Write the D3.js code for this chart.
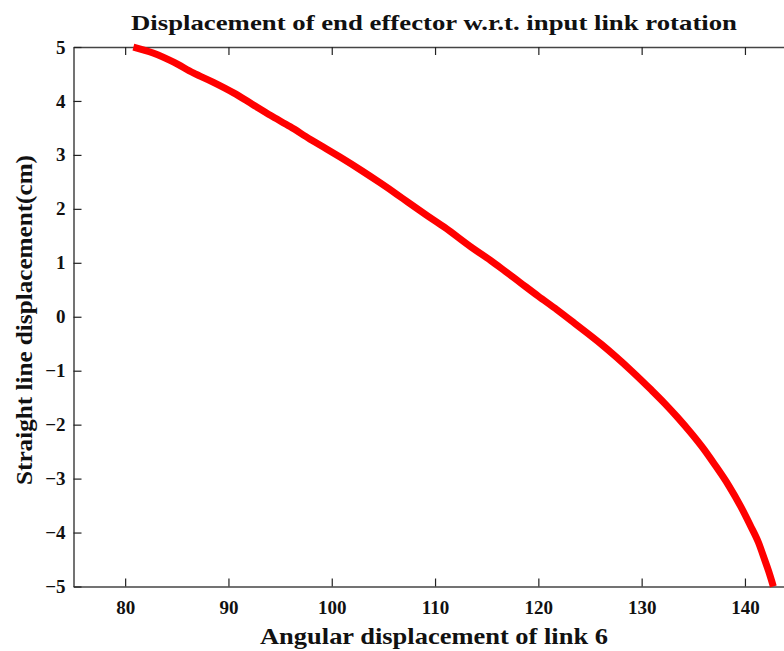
<!DOCTYPE html>
<html>
<head>
<meta charset="utf-8">
<script src="https://cdn.jsdelivr.net/npm/d3@7"></script>
<style>
  body { margin: 0; background: #fff; }
  svg { display: block; }
  text { font-family: "Liberation Serif", "Times New Roman", serif; font-weight: bold; fill: #111; }
</style>
</head>
<body>
<div id="chart"></div>
<script>
// angle of link 6 (deg) vs straight line displacement (cm)
const angle = [80.8, 82.7, 84.7, 86.6, 88.5, 90.5, 92.3, 94.1, 96.0, 97.9, 99.5, 100.8, 102.8, 104.7,
  106.3, 107.4, 109.2, 110.9, 113.5, 115.4, 116.4, 118.2, 120.0, 121.8, 123.5, 126.1, 127.5, 129.0,
  130.9, 132.2, 133.5, 134.8, 136.0, 137.0, 138.4, 139.6, 140.5, 141.3, 141.9, 142.3, 142.75];
const disp = [5.0, 4.89, 4.72, 4.52, 4.35, 4.15, 3.94, 3.73, 3.52, 3.29, 3.11, 2.96, 2.72, 2.48,
  2.27, 2.12, 1.88, 1.66, 1.29, 1.04, 0.90, 0.64, 0.38, 0.13, -0.12, -0.51, -0.74, -1.0,
  -1.35, -1.60, -1.87, -2.16, -2.45, -2.72, -3.12, -3.52, -3.86, -4.18, -4.50, -4.72, -5.0];
const xTicks = [80, 90, 100, 110, 120, 130, 140];
const yTicks = [-5, -4, -3, -2, -1, 0, 1, 2, 3, 4, 5];

const width = 784, height = 651;
const margin = { top: 47, left: 73.5 };
const xRight = 796.6, yBottom = 586.5;

const svg = d3.select("#chart").append("svg")
  .attr("width", width).attr("height", height);

const x = d3.scaleLinear().domain([75, 145]).range([margin.left, xRight]);
const y = d3.scaleLinear().domain([-5, 5]).range([yBottom, margin.top]);

// axes box, ticks pointing inwards like matlab
svg.append("g").attr("transform", `translate(0,${yBottom})`)
  .call(d3.axisBottom(x).tickValues(xTicks).tickSizeInner(-8).tickSizeOuter(0).tickPadding(14));
svg.append("g").attr("transform", `translate(0,${margin.top})`)
  .call(d3.axisTop(x).tickValues(xTicks).tickSizeInner(-8).tickSizeOuter(0).tickFormat(""));
svg.append("g").attr("transform", `translate(${margin.left},0)`)
  .call(d3.axisLeft(y).tickValues(yTicks).tickSizeInner(-8).tickSizeOuter(0).tickPadding(8));
svg.append("g").attr("transform", `translate(${xRight},0)`)
  .call(d3.axisRight(y).tickValues(yTicks).tickSizeInner(-8).tickSizeOuter(0).tickFormat(""));

svg.selectAll(".domain").attr("stroke", "#444").attr("stroke-width", 1.5);
svg.selectAll(".tick line").attr("stroke", "#222").attr("stroke-width", 1.2);
svg.selectAll(".tick text")
  .attr("font-family", '"Liberation Serif", serif')
  .attr("font-weight", "bold").attr("font-size", 19).attr("fill", "#111");

// curve
const line = d3.line().x((d, i) => x(angle[i])).y(d => y(d)).curve(d3.curveMonotoneX);
svg.append("path").datum(disp)
  .attr("d", line)
  .attr("fill", "none")
  .attr("stroke", "#ff0000")
  .attr("stroke-width", 7)
  .attr("stroke-linejoin", "round");

// titles
svg.append("text")
  .attr("x", 434).attr("y", 30)
  .attr("text-anchor", "middle").attr("font-size", 22)
  .attr("textLength", 606).attr("lengthAdjust", "spacingAndGlyphs")
  .text("Displacement of end effector w.r.t. input link rotation");

svg.append("text")
  .attr("x", 434).attr("y", 644)
  .attr("text-anchor", "middle").attr("font-size", 24)
  .attr("textLength", 348).attr("lengthAdjust", "spacingAndGlyphs")
  .text("Angular displacement of link 6");

svg.append("text")
  .attr("transform", "translate(32,320) rotate(-90)")
  .attr("text-anchor", "middle").attr("font-size", 24)
  .attr("textLength", 330).attr("lengthAdjust", "spacingAndGlyphs")
  .text("Straight line displacement(cm)");
</script>
</body>
</html>
